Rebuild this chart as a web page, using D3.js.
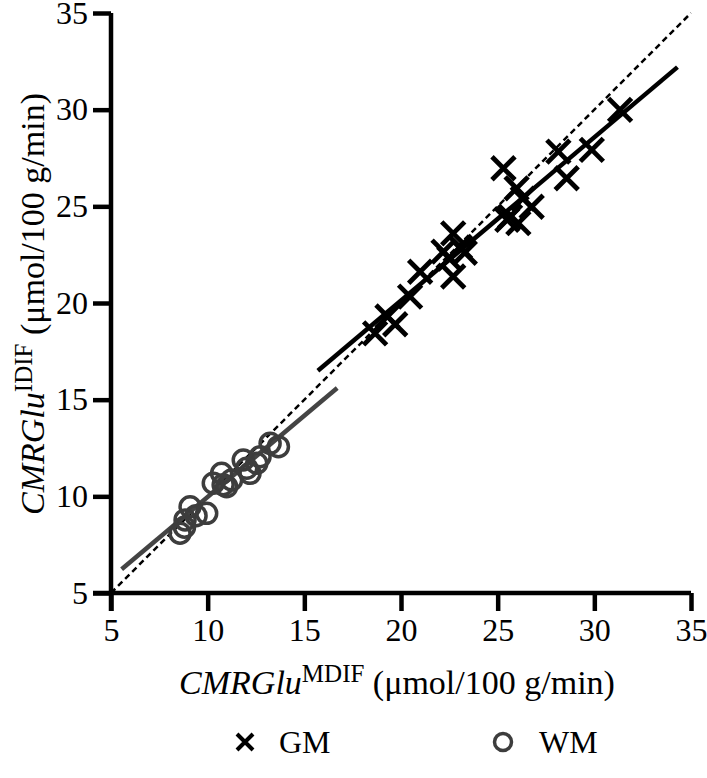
<!DOCTYPE html>
<html>
<head>
<meta charset="utf-8">
<script src="https://cdn.jsdelivr.net/npm/d3@7"></script>
<style>
body{margin:0;background:#fff;}
svg text{font-family:"Liberation Serif","Times New Roman",serif;fill:#000;}
</style>
</head>
<body>
<div id="chart"></div>
<script>
// GM points: [MDIF, IDIF]
const gmX = [18.66,19.3,19.7,20.47,20.99,22.2,22.7,23.05,22.7,23.3,22.5,25.3,25.5,25.98,26.07,26.76,25.64,26.3,28.14,28.57,29.87,31.33];
const gmY = [18.43,19.3,18.9,20.33,21.62,22.66,23.6,22.9,21.37,22.6,22.3,26.97,24.3,25.93,24.13,24.98,24.47,25.4,27.83,26.45,27.92,29.99];
// WM points
const wmX = [8.57,8.83,9.09,9.4,9.95,10.29,10.72,10.98,11.24,11.84,12.19,12.54,12.71,13.23,13.66,12.02,10.8,8.8];
const wmY = [8.09,8.78,9.46,9.0,9.12,10.68,11.19,10.5,10.85,11.88,11.19,11.71,12.05,12.74,12.57,11.45,10.6,8.4];
// fitted lines, identity line
const gmFit = [[15.7,16.5],[34.3,32.2]];
const wmFit = [[5.55,6.23],[16.7,15.6]];
const identity = [[5,5],[35,35]];
const ticks = [5,10,15,20,25,30,35];

const W = 707, H = 778;
const M = {left:111, right:16, top:13, bottom:185};
const svg = d3.select("#chart").append("svg").attr("width",W).attr("height",H);

const x = d3.scaleLinear().domain([5,35]).range([M.left, W-M.right]);
const y = d3.scaleLinear().domain([5,35]).range([H-M.bottom, M.top]);

const line = d3.line().x(d=>x(d[0])).y(d=>y(d[1]));

svg.append("path").datum(identity).attr("d",line).attr("fill","none")
  .attr("stroke","#000").attr("stroke-width",2.5).attr("stroke-dasharray","6,4");
svg.append("path").datum(wmFit).attr("d",line).attr("fill","none")
  .attr("stroke","#444").attr("stroke-width",4.5);
svg.append("path").datum(gmFit).attr("d",line).attr("fill","none")
  .attr("stroke","#000").attr("stroke-width",4.5);

// WM circles
svg.append("g").selectAll("circle").data(wmX.map((v,i)=>[v,wmY[i]])).join("circle")
  .attr("cx",d=>x(d[0])).attr("cy",d=>y(d[1])).attr("r",10)
  .attr("fill","none").attr("stroke","#3d3d3d").attr("stroke-width",3.5);

// GM crosses
const s = 11.5;
svg.append("g").selectAll("path").data(gmX.map((v,i)=>[v,gmY[i]])).join("path")
  .attr("d",`M${-s},${-s}L${s},${s}M${-s},${s}L${s},${-s}`)
  .attr("transform",d=>`translate(${x(d[0])},${y(d[1])})`)
  .attr("stroke","#000").attr("stroke-width",4.8).attr("fill","none");

// axes
const ax = svg.append("g").attr("transform",`translate(0,${y(5)})`)
  .call(d3.axisBottom(x).tickValues(ticks).tickSize(18).tickPadding(7));
const ay = svg.append("g").attr("transform",`translate(${x(5)},0)`)
  .call(d3.axisLeft(y).tickValues(ticks).tickSize(18).tickPadding(5));
[ax,ay].forEach(g=>{
  g.select(".domain").attr("stroke","#000").attr("stroke-width",4.5);
  g.selectAll(".tick line").attr("stroke","#000").attr("stroke-width",4.5);
  g.selectAll(".tick text").attr("font-size",32).attr("fill","#000");
});
ax.select(".domain").attr("d",`M${x(5)-18},0H${x(35)}`);
ay.select(".domain").attr("d",`M0,${y(5)+18}V${y(35)}`);

// axis titles
const xt = svg.append("text").attr("x",397).attr("y",694).attr("text-anchor","middle").attr("font-size",34);
xt.append("tspan").attr("font-style","italic").text("CMRGlu");
xt.append("tspan").attr("font-size",25).attr("dy",-12).text("MDIF");
xt.append("tspan").attr("dy",12).text(" (μmol/100 g/min)");

const yt = svg.append("text").attr("transform","translate(44,304) rotate(-90)").attr("text-anchor","middle").attr("font-size",34);
yt.append("tspan").attr("font-style","italic").text("CMRGlu");
yt.append("tspan").attr("font-size",25).attr("dy",-12).text("IDIF");
yt.append("tspan").attr("dy",12).text(" (μmol/100 g/min)");

// legend
const lg = svg.append("g").attr("transform","translate(0,742)");
lg.append("path").attr("d","M-8,-8L8,8M-8,8L8,-8").attr("transform","translate(245,0)")
  .attr("stroke","#000").attr("stroke-width",4).attr("fill","none");
lg.append("text").attr("x",279).attr("y",11).attr("font-size",32).text("GM");
lg.append("circle").attr("cx",503).attr("cy",0).attr("r",8.5).attr("fill","none").attr("stroke","#3d3d3d").attr("stroke-width",3.5);
lg.append("text").attr("x",539).attr("y",11).attr("font-size",32).text("WM");
</script>
</body>
</html>
